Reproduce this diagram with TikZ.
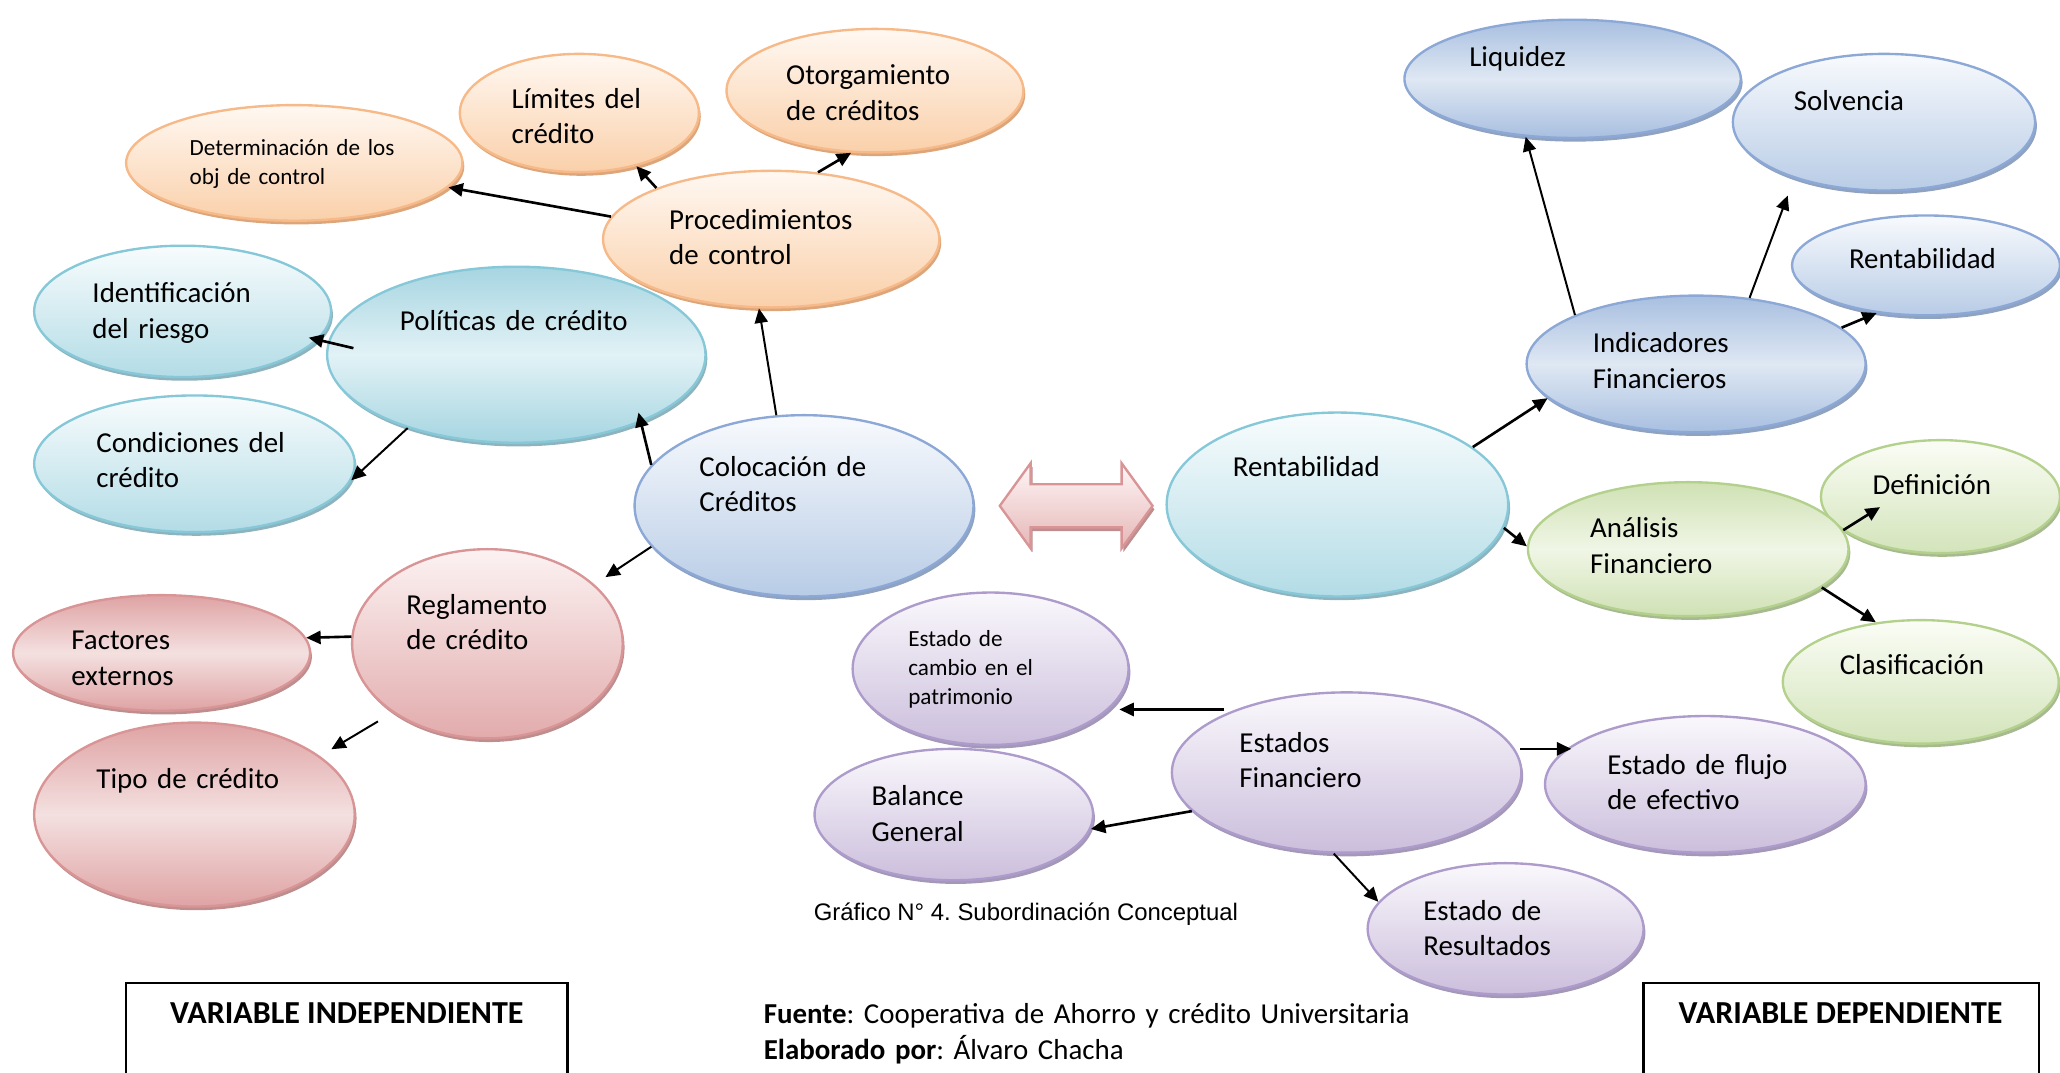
\documentclass[tikz,border=0pt]{standalone}
\usepackage{fontspec}
\setmainfont{Carlito}
\newfontfamily\arialfont{Liberation Sans}
\usetikzlibrary{shapes.geometric,shadows,arrows.meta,calc}
\frenchspacing

% palette: border (L), top (T), bottom (B), shadow (S), diagonal dark (D), diagonal light (W)
\definecolor{orL}{HTML}{F6B987}\definecolor{orT}{HTML}{FFF8F2}\definecolor{orB}{HTML}{FAD0AA}\definecolor{orS}{HTML}{DDA67A}
\definecolor{tlL}{HTML}{86C8D8}\definecolor{tlT}{HTML}{F8FCFD}\definecolor{tlB}{HTML}{B3DCE6}\definecolor{tlS}{HTML}{8DB4BE}
\definecolor{tlD}{HTML}{A6D5E1}\definecolor{tlW}{HTML}{E2F2F6}
\definecolor{blL}{HTML}{8CA8D6}\definecolor{blT}{HTML}{F8FAFD}\definecolor{blB}{HTML}{B8CCE6}\definecolor{blS}{HTML}{8FA2BF}
\definecolor{blD}{HTML}{A8BFE0}\definecolor{blW}{HTML}{DFE8F3}
\definecolor{rdL}{HTML}{D99496}\definecolor{rdT}{HTML}{FCF2F2}\definecolor{rdB}{HTML}{E2ABAC}\definecolor{rdS}{HTML}{BE8E8F}
\definecolor{rdD}{HTML}{DFA3A4}\definecolor{rdW}{HTML}{F4E0E0}
\definecolor{grL}{HTML}{B3D18C}\definecolor{grT}{HTML}{FBFDF6}\definecolor{grB}{HTML}{D3E4BA}\definecolor{grS}{HTML}{A7BA8F}
\definecolor{grD}{HTML}{CFE1B4}\definecolor{grW}{HTML}{F0F6E6}
\definecolor{puL}{HTML}{AD9BCB}\definecolor{puT}{HTML}{FAF8FC}\definecolor{puB}{HTML}{CBBEDC}\definecolor{puS}{HTML}{A398B8}
\definecolor{arL}{HTML}{D99496}\definecolor{arT}{HTML}{FEF6F6}\definecolor{arB}{HTML}{E6B6B7}

\tikzset{
  oval/.style 2 args={ellipse, inner sep=0pt, minimum width=#1pt, minimum height=#2pt, line width=0.9pt},
  shd/.style={drop shadow={shadow xshift=0.7pt, shadow yshift=-1.4pt, fill=#1, opacity=1}},
  vfill/.style={draw=#1L, top color=#1T, bottom color=#1B, shd=#1S},
  dfill/.style={draw=#1L, shading angle=-45, top color=#1D, bottom color=#1D, middle color=#1W, shd=#1S},
  lbl/.style={inner sep=0pt, anchor=base west, text width=170pt, align=left, yshift=-1.2pt,
              font=\fontsize{11}{13.5}\selectfont},
  lbls/.style={lbl, font=\fontsize{8.8}{10.9}\selectfont},
  arr/.style={-{Triangle[length=5.5pt,width=5pt]}, line width=1pt},
  arrthin/.style={arr, line width=0.75pt},
  varbox/.style={line width=0.9pt},
  boxlbl/.style={inner sep=0pt, anchor=base, font=\fontsize{12.2}{14}\selectfont\bfseries},
}

\begin{document}
\begin{tikzpicture}[x=0.5pt,y=-0.5pt]
\useasboundingbox (0,0) rectangle (1568,816);
\clip (0,0) rectangle (1568,816);

% --- independent variable side ---
\node[oval={128}{44}, vfill=or] (det)   at (224,124) {};
\node[oval={91}{45},  vfill=or] (lim)   at (441,86)  {};
\node[oval={113}{47}, vfill=or] (otorg) at (666,69)  {};
\node[oval={128}{52}, vfill=or] (proc)  at (587,182) {};
\node[oval={113}{50}, vfill=tl] (ident) at (139,237) {};
\node[oval={122}{52}, vfill=tl] (cond)  at (148,353) {};
\node[oval={144}{67}, dfill=tl] (pol)   at (393,270) {};
\node[oval={129}{69}, vfill=bl] (coloc) at (612,385) {};
\node[oval={113}{44}, dfill=rd] (fact)  at (123,497) {};
\node[oval={122}{70}, dfill=rd] (tipo)  at (148,620) {};
\node[oval={103}{72}, vfill=rd] (regl)  at (371,490) {};

% --- dependent variable side ---
\node[oval={128}{45}, dfill=bl] (liq)   at (1197,60)  {};
\node[oval={115}{52}, vfill=bl] (solv)  at (1434,93)  {};
\node[oval={102}{38}, vfill=bl] (rentS) at (1466,202) {};
\node[oval={129}{52}, dfill=bl] (indic) at (1291,277) {};
\node[oval={130}{70}, vfill=tl] (rentB) at (1018,384) {};
\node[oval={91}{43},  vfill=gr] (def)   at (1477,378) {};
\node[oval={105}{47}, vfill=gr] (clas)  at (1462,519) {};
\node[oval={122}{51}, dfill=gr] (anal)  at (1285,418) {};
\node[oval={105}{58}, vfill=pu] (estC)  at (754,509)  {};
\node[oval={106}{50}, vfill=pu] (bal)   at (726,620)  {};
\node[oval={133}{61}, vfill=pu] (estF)  at (1025,588) {};
\node[oval={122}{52}, vfill=pu] (flujo) at (1298,597) {};
\node[oval={105}{50}, vfill=pu] (res)   at (1146,707) {};

% two-way arrow between the variables
\filldraw[draw=arL, line width=0.9pt, top color=arT, bottom color=arB, shd=rdS]
  (761,385) -- (784.5,352.5) -- (784.5,368.6) -- (853.7,368.6) -- (853.7,352.5)
  -- (877.3,385) -- (853.7,417.4) -- (853.7,401.4) -- (784.5,401.4) -- (784.5,417.4) -- cycle;

% --- labels ---
\node[lbls] (det-t)   at (144,116) {Determinación de los\\obj de control};
\node[lbl]  (lim-t)   at (389,80)  {Límites del\\crédito};
\node[lbl]  (otorg-t) at (598,62)  {Otorgamiento\\de créditos};
\node[lbl]  (proc-t)  at (509,172) {Procedimientos\\de control};
\node[lbl]  (ident-t) at (70,228)  {Identificación\\del riesgo};
\node[lbl]  (pol-t)   at (304,249) {Políticas de crédito};
\node[lbl]  (cond-t)  at (73,342)  {Condiciones del\\crédito};
\node[lbl]  (coloc-t) at (532,360) {Colocación de\\Créditos};
\node[lbl]  (regl-t)  at (309,465) {Reglamento\\de crédito};
\node[lbl]  (fact-t)  at (54,492)  {Factores\\externos};
\node[lbl]  (tipo-t)  at (73,598)  {Tipo de crédito};
\node[lbl]  (liq-t)   at (1118,48) {Liquidez};
\node[lbl]  (solv-t)  at (1365,82) {Solvencia};
\node[lbl]  (rentS-t) at (1407,202) {Rentabilidad};
\node[lbl]  (indic-t) at (1212,266) {Indicadores\\Financieros};
\node[lbl]  (rentB-t) at (938,360) {Rentabilidad};
\node[lbl]  (def-t)   at (1425,374) {Definición};
\node[lbl]  (anal-t)  at (1210,407) {Análisis\\Financiero};
\node[lbl]  (clas-t)  at (1400,511) {Clasificación};
\node[lbls] (estC-t)  at (691,490) {Estado de\\cambio en el\\patrimonio};
\node[lbl]  (bal-t)   at (663,611) {Balance\\General};
\node[lbl]  (estF-t)  at (943,570) {Estados\\Financiero};
\node[lbl]  (flujo-t) at (1223,587) {Estado de flujo\\de efectivo};
\node[lbl]  (res-t)   at (1083,698) {Estado de\\Resultados};

% --- connectors ---
\draw[arr] (proc.172) -- (det.-9.5);
\draw[arr] (proc.156) -- (lim.-43);
\draw[arr] (proc.55) -- (otorg.-111);
\draw[arrthin] (coloc.107) -- (proc.-100);
\draw[arr] (coloc.165) -- ($(pol.center)+(93,44)$);
\draw[arr] ($(pol.center)+(-124,-5)$) -- ($(ident.center)+(96,20)$);
\draw[arrthin] (pol.-146) -- (cond.-6.5);
\draw[arrthin, shorten >=5pt] (coloc.-165) -- (regl.29);
\draw[arr] (regl.177) -- (fact.6.6);
\draw[arrthin, shorten <=6.5pt, shorten >=5pt] (regl.-144) -- (tipo.25);

\draw[arr] (rentB.23) -- (indic.-167);
\draw[arr] (rentB.-8.6) -- (anal.179);
\draw[arrthin] (indic.158) -- (liq.-129);
\draw[arrthin, shorten >=7pt] (indic.51) -- (solv.-148.5);
\draw[arr] (indic.14) -- (rentS.-136);
\draw[arr] (anal.7) -- ($(def.center)+(-46,8)$);
\draw[arr] (anal.-16.5) -- (clas.127);
\draw[arr] ($(estF.center)+(-93,-48)$) -- ($(estC.center)+(98,31)$);
\draw[arr] (estF.-166.8) -- (bal.-6.5);
\draw[arr] ($(estF.center)+(132,-18)$) -- ($(flujo.center)+(-102,-27)$);
\draw[arrthin] (estF.-99.8) -- (res.168.8);

% --- caption, source and variable boxes ---
\node[inner sep=0pt, anchor=base west, font=\arialfont\fontsize{9.1}{10}\selectfont] (cap) at (619,701)
  {Gráfico N° 4. Subordinación Conceptual};
\node[lbl, text width=300pt] (src) at (581,777)
  {\textbf{Fuente}: Cooperativa de Ahorro y crédito Universitaria\\\textbf{Elaborado por}: Álvaro Chacha};

\draw[varbox] (96,840) |- (432,748) -- (432,840);
\node[boxlbl] (vi-t) at (264,779) {VARIABLE INDEPENDIENTE};
\draw[varbox] (1251,840) |- (1552,748) -- (1552,840);
\node[boxlbl] (vd-t) at (1401,779) {VARIABLE DEPENDIENTE};
\end{tikzpicture}
\end{document}
